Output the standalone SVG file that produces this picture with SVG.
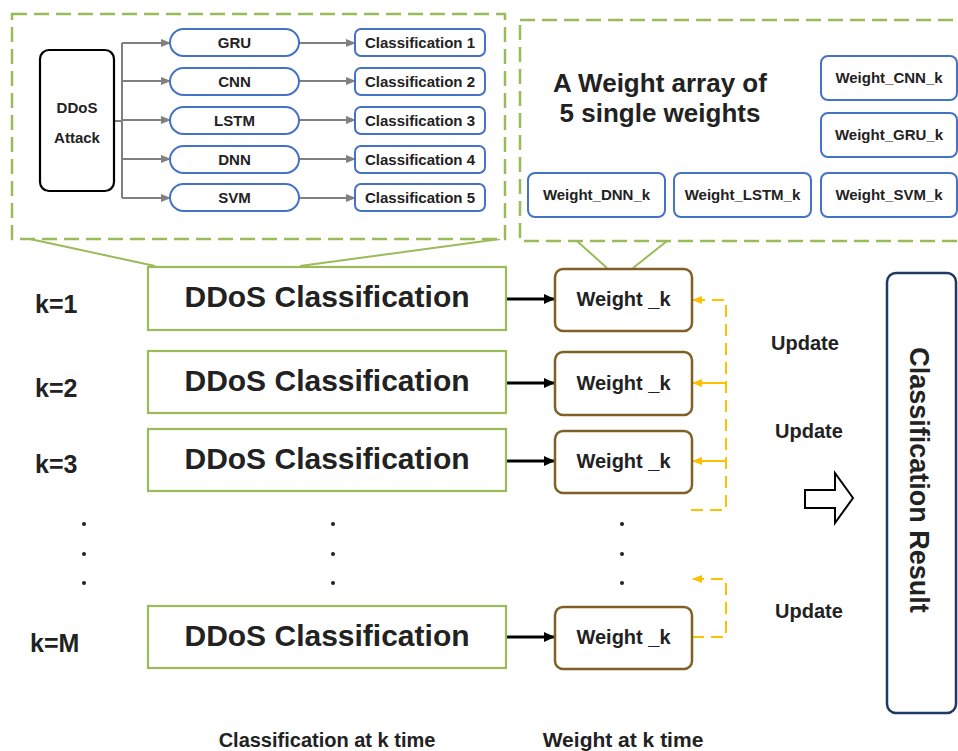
<svg xmlns="http://www.w3.org/2000/svg" width="958" height="751" viewBox="0 0 958 751">
<style>
text{font-family:"Liberation Sans",Arial,sans-serif;font-weight:bold;fill:#222;}
.mid{text-anchor:middle;}
.blue{fill:#fff;stroke:#4472c4;stroke-width:2;}
.green{fill:#fff;stroke:#9bbb59;stroke-width:2.2;}
.brown{fill:#fff;stroke:#7f6026;stroke-width:2.5;}
.dashbox{fill:#fff;stroke:#9bbb59;stroke-width:2.5;stroke-dasharray:15 7;}
.gray{stroke:#808080;stroke-width:2;fill:none;}
.blk{stroke:#000;stroke-width:3;fill:none;}
.yel{stroke:#ffc000;stroke-width:2;fill:none;}
.yd{stroke-dasharray:12 7;}
.dot{fill:#222;}
</style>
<defs>
<marker id="ag" markerWidth="10" markerHeight="10" refX="9" refY="5" orient="auto" markerUnits="userSpaceOnUse"><path d="M0,1 L10,5 L0,9 Z" fill="#808080"/></marker>
<marker id="ab" markerWidth="12" markerHeight="12" refX="11" refY="6" orient="auto" markerUnits="userSpaceOnUse"><path d="M0,1 L11,6 L0,11 Z" fill="#000"/></marker>
<marker id="ay" markerWidth="10" markerHeight="10" refX="9" refY="5" orient="auto" markerUnits="userSpaceOnUse"><path d="M0,1 L10,5 L0,9 Z" fill="#ffc000"/></marker>
</defs>

<!-- callout boxes -->
<g id="callout-left">
<line x1="30" y1="239" x2="155" y2="266" stroke="#9bbb59" stroke-width="2"/>
<line x1="500" y1="239" x2="300" y2="266" stroke="#9bbb59" stroke-width="2"/>
<rect class="dashbox" x="12" y="14" width="493" height="225"/>
</g>
<g id="callout-right">
<line x1="577" y1="241" x2="607" y2="268" stroke="#9bbb59" stroke-width="2"/>
<line x1="667" y1="241" x2="633" y2="268" stroke="#9bbb59" stroke-width="2"/>
<rect class="dashbox" x="520" y="20" width="460" height="221"/>
<text class="mid" x="660" y="92" font-size="26">A Weight array of</text>
<text class="mid" x="660" y="122" font-size="26">5 single weights</text>
</g>

<g id="connectors">
<path class="gray" d="M114,121 H122"/>
<path class="gray" d="M122,43 V198"/>
<path class="gray" d="M122,43 H170" marker-end="url(#ag)"/>
<path class="gray" d="M122,81 H170" marker-end="url(#ag)"/>
<path class="gray" d="M122,120 H170" marker-end="url(#ag)"/>
<path class="gray" d="M122,159 H170" marker-end="url(#ag)"/>
<path class="gray" d="M122,198 H170" marker-end="url(#ag)"/>
<path class="gray" d="M299,43 H355" marker-end="url(#ag)"/>
<path class="gray" d="M299,81 H355" marker-end="url(#ag)"/>
<path class="gray" d="M299,120 H355" marker-end="url(#ag)"/>
<path class="gray" d="M299,159 H355" marker-end="url(#ag)"/>
<path class="gray" d="M299,198 H355" marker-end="url(#ag)"/>
<path class="blk" d="M506,299 H555" marker-end="url(#ab)"/>
<path class="blk" d="M506,383 H555" marker-end="url(#ab)"/>
<path class="blk" d="M506,461 H555" marker-end="url(#ab)"/>
<path class="blk" d="M506,637 H555" marker-end="url(#ab)"/>
<path class="yel yd" d="M691,510 H726 V300 H693" marker-end="url(#ay)"/>
<path class="yel" d="M726,383 H693" marker-end="url(#ay)"/>
<path class="yel" d="M726,461 H693" marker-end="url(#ay)"/>
<path class="yel yd" d="M692,637 H726 V579 H693" marker-end="url(#ay)"/>
<path d="M805,490 H835 V473 L853,498 L835,523 V508 H805 Z" fill="#fff" stroke="#000" stroke-width="2"/>
</g>

<g id="ddos-attack"><rect x="40" y="50" width="74" height="141" rx="9" fill="#fff" stroke="#000" stroke-width="2.2"/>
<text class="mid" x="77" y="113" font-size="15">DDoS</text><text class="mid" x="77" y="143" font-size="15">Attack</text></g>

<g id="gru"><rect class="blue" x="170" y="29" width="129" height="27" rx="13.5"/><text class="mid" x="234.5" y="48" font-size="15">GRU</text></g>
<g id="cnn"><rect class="blue" x="170" y="68" width="129" height="27" rx="13.5"/><text class="mid" x="234.5" y="87" font-size="15">CNN</text></g>
<g id="lstm"><rect class="blue" x="170" y="107" width="129" height="27" rx="13.5"/><text class="mid" x="234.5" y="126" font-size="15">LSTM</text></g>
<g id="dnn"><rect class="blue" x="170" y="146" width="129" height="27" rx="13.5"/><text class="mid" x="234.5" y="165" font-size="15">DNN</text></g>
<g id="svm"><rect class="blue" x="170" y="184" width="129" height="27" rx="13.5"/><text class="mid" x="234.5" y="203" font-size="15">SVM</text></g>

<g id="class1"><rect class="blue" x="355" y="29" width="130" height="27" rx="6"/><text class="mid" x="420" y="48" font-size="15">Classification 1</text></g>
<g id="class2"><rect class="blue" x="355" y="68" width="130" height="27" rx="6"/><text class="mid" x="420" y="87" font-size="15">Classification 2</text></g>
<g id="class3"><rect class="blue" x="355" y="107" width="130" height="27" rx="6"/><text class="mid" x="420" y="126" font-size="15">Classification 3</text></g>
<g id="class4"><rect class="blue" x="355" y="146" width="130" height="27" rx="6"/><text class="mid" x="420" y="165" font-size="15">Classification 4</text></g>
<g id="class5"><rect class="blue" x="355" y="184" width="130" height="27" rx="6"/><text class="mid" x="420" y="203" font-size="15">Classification 5</text></g>

<g id="w-cnn"><rect class="blue" x="821" y="56" width="136" height="44" rx="7"/><text class="mid" x="889" y="83" font-size="15">Weight_CNN_k</text></g>
<g id="w-gru"><rect class="blue" x="821" y="113" width="136" height="44" rx="7"/><text class="mid" x="889" y="140" font-size="15">Weight_GRU_k</text></g>
<g id="w-dnn"><rect class="blue" x="528" y="173" width="137" height="44" rx="7"/><text class="mid" x="596.5" y="200" font-size="15">Weight_DNN_k</text></g>
<g id="w-lstm"><rect class="blue" x="674" y="173" width="137" height="44" rx="7"/><text class="mid" x="742.5" y="200" font-size="15">Weight_LSTM_k</text></g>
<g id="w-svm"><rect class="blue" x="821" y="173" width="136" height="44" rx="7"/><text class="mid" x="889" y="200" font-size="15">Weight_SVM_k</text></g>

<g id="k-labels">
<text x="35" y="313" font-size="25">k=1</text>
<text x="35" y="397" font-size="25">k=2</text>
<text x="35" y="473" font-size="25">k=3</text>
<text x="30" y="652" font-size="25">k=M</text>
</g>

<g id="dc1"><rect class="green" x="148" y="267" width="358" height="63"/><text class="mid" x="327" y="307" font-size="30">DDoS Classification</text></g>
<g id="dc2"><rect class="green" x="148" y="351" width="358" height="62"/><text class="mid" x="327" y="391" font-size="30">DDoS Classification</text></g>
<g id="dc3"><rect class="green" x="148" y="429" width="358" height="62"/><text class="mid" x="327" y="469" font-size="30">DDoS Classification</text></g>
<g id="dcM"><rect class="green" x="148" y="606" width="358" height="62"/><text class="mid" x="327" y="646" font-size="30">DDoS Classification</text></g>

<g id="w1"><rect class="brown" x="555" y="269" width="137" height="62" rx="8"/><text class="mid" x="623.5" y="306" font-size="20">Weight _k</text></g>
<g id="w2"><rect class="brown" x="555" y="352" width="137" height="63" rx="8"/><text class="mid" x="623.5" y="390" font-size="20">Weight _k</text></g>
<g id="w3"><rect class="brown" x="555" y="431" width="137" height="62" rx="8"/><text class="mid" x="623.5" y="468" font-size="20">Weight _k</text></g>
<g id="wM"><rect class="brown" x="555" y="607" width="137" height="62" rx="8"/><text class="mid" x="623.5" y="644" font-size="20">Weight _k</text></g>

<g id="dots">
<circle class="dot" cx="84" cy="524" r="2"/><circle class="dot" cx="84" cy="554" r="2"/><circle class="dot" cx="84" cy="583" r="2"/>
<circle class="dot" cx="333" cy="524" r="2"/><circle class="dot" cx="333" cy="554" r="2"/><circle class="dot" cx="333" cy="583" r="2"/>
<circle class="dot" cx="622" cy="524" r="2"/><circle class="dot" cx="622" cy="554" r="2"/><circle class="dot" cx="622" cy="583" r="2"/>
</g>

<g id="updates">
<text x="771" y="350" font-size="20">Update</text>
<text x="775" y="438" font-size="20">Update</text>
<text x="775" y="618" font-size="20">Update</text>
</g>

<g id="result"><rect x="887" y="273" width="69" height="440" rx="9" fill="#fff" stroke="#203864" stroke-width="2.5"/>
<text class="mid" transform="translate(910,480) rotate(90)" font-size="27">Classification Result</text></g>

<g id="bottom-labels">
<text class="mid" x="327" y="747" font-size="20">Classification at k time</text>
<text class="mid" x="623" y="747" font-size="21">Weight at k time</text>
</g>
</svg>
